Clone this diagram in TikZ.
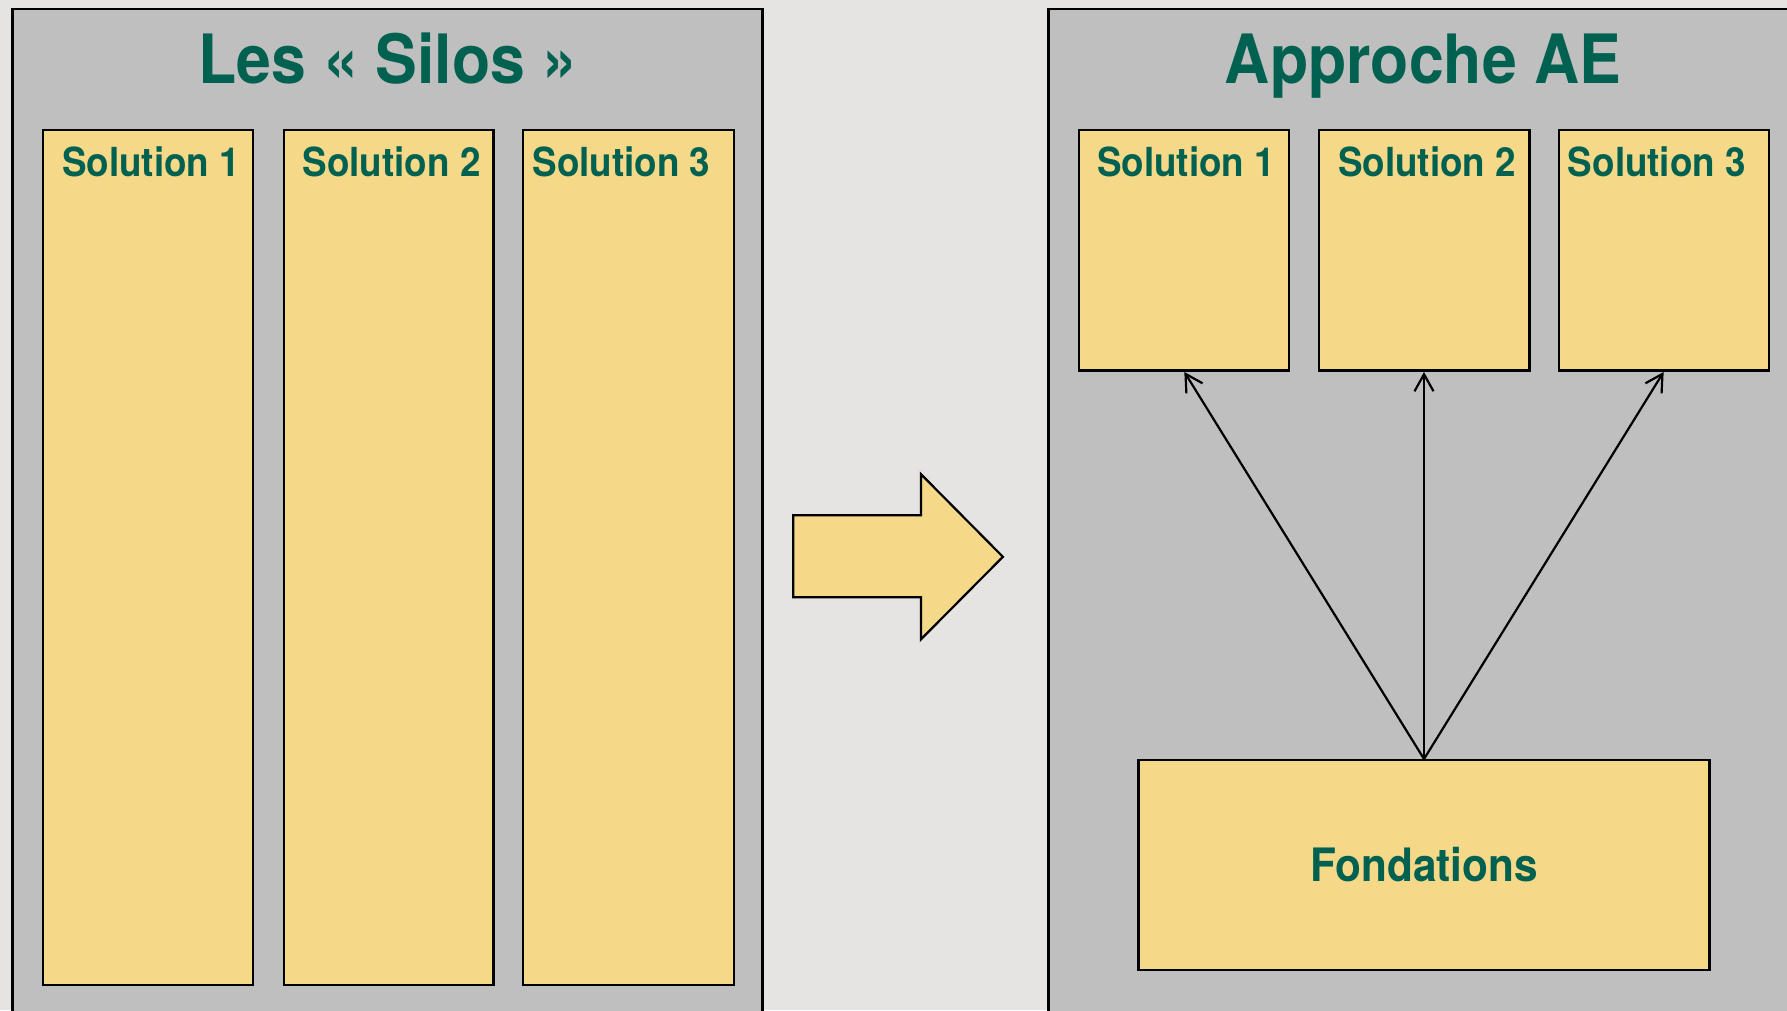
\documentclass[tikz,border=0pt]{standalone}
\usepackage{fontspec}
\setmainfont{TeX Gyre Heros}[FakeStretch=0.92]
\usetikzlibrary{arrows.meta}
\definecolor{bgcol}{RGB}{229,228,226}
\definecolor{panelcol}{RGB}{191,191,191}
\definecolor{boxcol}{RGB}{245,216,136}
\definecolor{txtcol}{RGB}{0,97,80}
\tikzset{
  panel/.style={draw=black, line width=2.2pt, fill=panelcol},
  sol/.style={draw=black, line width=2.2pt, fill=boxcol, inner sep=0pt, anchor=north west},
  soltext/.style={text=txtcol, font=\fontsize{40}{44}\selectfont\bfseries, anchor=center, inner sep=0pt},
  titletext/.style={text=txtcol, font=\fontsize{68}{72}\selectfont\bfseries, anchor=base, inner sep=0pt},
  link/.style={draw=black, line width=2.2pt, -{Straight Barb[length=17pt,width=19pt,line width=2.2pt]}, shorten >=0.5pt}
}
\begin{document}
\begin{tikzpicture}[x=1pt,y=-1pt]
\useasboundingbox (0,0) rectangle (1787,1010);
\clip (0,0) rectangle (1787,1010);
\fill[bgcol] (0,0) rectangle (1787,1010);
% panels
\draw[panel] (12.5,9) rectangle (762.5,1030);
\draw[panel] (1048.5,9) rectangle (1810,1030);
% titles
\node[titletext] (t1) at (388,83) {Les « Silos »};
\node[titletext] (t2) at (1423,83) {Approche AE};
% silos
\node[sol, minimum width=209.7pt, minimum height=854.8pt] (s1) at (42.2,128.8) {};
\node[sol, minimum width=209.8pt, minimum height=854.8pt] (s2) at (282.6,128.8) {};
\node[sol, minimum width=210.8pt, minimum height=854.8pt] (s3) at (522,128.8) {};
\node[soltext] (s1t) at ([xshift=3pt,yshift=-33pt]s1.north) {Solution 1};
\node[soltext] (s2t) at ([xshift=3pt,yshift=-33pt]s2.north) {Solution 2};
\node[soltext] (s3t) at ([xshift=-7pt,yshift=-33pt]s3.north) {Solution 3};
% right solutions
\node[sol, minimum width=209.9pt, minimum height=240.5pt] (r1) at (1078,128.8) {};
\node[sol, minimum width=210.8pt, minimum height=240.5pt] (r2) at (1317.5,128.8) {};
\node[sol, minimum width=209.6pt, minimum height=240.5pt] (r3) at (1558,128.8) {};
\node[soltext] (r1t) at ([xshift=2pt,yshift=-33pt]r1.north) {Solution 1};
\node[soltext] (r2t) at ([xshift=3pt,yshift=-33pt]r2.north) {Solution 2};
\node[soltext] (r3t) at ([xshift=-7pt,yshift=-33pt]r3.north) {Solution 3};
% fondations
\node[sol, minimum width=571pt, minimum height=209.7pt] (f) at (1137.4,759) {};
\node[soltext, font=\fontsize{46}{50}\selectfont\bfseries] (ft) at (f.center) {Fondations};
% arrows
\draw[link] (f.north) -- (r1.south);
\draw[link] (f.north) -- (r2.south);
\draw[link] (f.north) -- (r3.south);
% big arrow
\draw[draw=black, line width=2.2pt, fill=boxcol, line join=miter]
  (793.2,515.2) -- (920.9,515.2) -- (920.9,474.1) -- (1002.9,556.8)
  -- (920.9,639.4) -- (920.9,597.2) -- (793.2,597.2) -- cycle;
\end{tikzpicture}
\end{document}
